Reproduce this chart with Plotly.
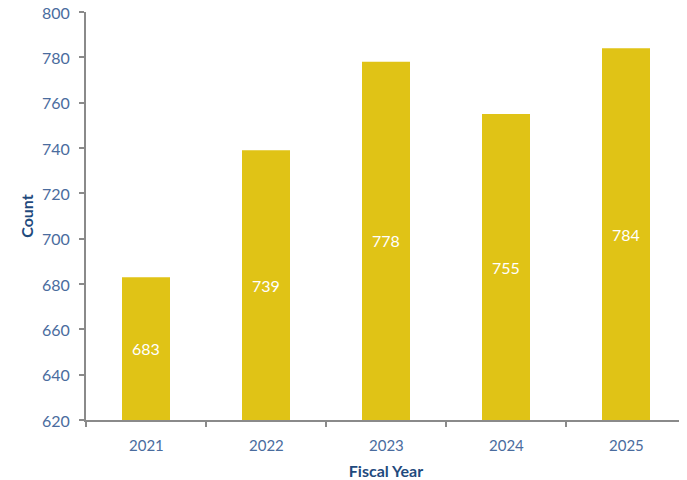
import plotly.graph_objects as go

years = ["2021", "2022", "2023", "2024", "2025"]
counts = [683, 739, 778, 755, 784]
y_ticks = [620, 640, 660, 680, 700, 720, 740, 760, 780, 800]
y_min, y_max = 620, 800

bar_color = "#E0C316"
tick_color = "#4A6C9E"
title_color = "#1F4A7D"
line_color = "#8A8A8A"
font_family = "Lato, Open Sans, sans-serif"

fig = go.Figure(
    go.Bar(
        x=years,
        y=counts,
        marker=dict(color=bar_color, line=dict(width=0)),
        width=0.4,
        hoverinfo="x+y",
    )
)

annotations = []
for i, (yr, c) in enumerate(zip(years, counts)):
    # value labels centred in the visible part of each bar
    annotations.append(dict(
        x=i, xref="x",
        y=(y_min + c) / 2, yref="y",
        text=str(c),
        showarrow=False,
        font=dict(color="white", size=16, family=font_family),
        xanchor="center", yanchor="middle",
    ))
    # category labels below the axis
    annotations.append(dict(
        x=i, xref="x",
        y=0, yref="paper",
        text=yr,
        showarrow=False,
        font=dict(color=tick_color, size=15, family=font_family),
        xanchor="center", yanchor="middle",
        yshift=-25,
    ))
# value-axis labels
for t in y_ticks:
    annotations.append(dict(
        x=0, xref="paper",
        y=t, yref="y",
        text=str(t),
        showarrow=False,
        font=dict(color=tick_color, size=16, family=font_family),
        xanchor="right", yanchor="middle",
        xshift=-14,
    ))

fig.update_layout(
    width=679,
    height=472,
    margin=dict(l=78, r=1, t=4, b=60),
    paper_bgcolor="white",
    plot_bgcolor="white",
    showlegend=False,
    font=dict(family=font_family, color=tick_color, size=15),
    annotations=annotations,
)

fig.update_xaxes(
    type="category",
    categoryorder="array",
    categoryarray=years,
    range=[-0.5, len(years) - 0.5],
    showline=True,
    linecolor=line_color,
    linewidth=1.5,
    ticks="outside",
    tickson="boundaries",
    ticklen=5,
    tickcolor=line_color,
    tickwidth=1.5,
    showticklabels=False,
    showgrid=False,
    title=dict(text="<b>Fiscal Year</b>", font=dict(size=16, color=title_color), standoff=45),
    automargin=False,
)

fig.update_yaxes(
    range=[y_min, y_max],
    tickvals=y_ticks,
    showline=True,
    linecolor=line_color,
    linewidth=1.5,
    ticks="outside",
    ticklen=5,
    tickcolor=line_color,
    tickwidth=1.5,
    showticklabels=False,
    showgrid=False,
    zeroline=False,
    title=dict(text="<b>Count</b>", font=dict(size=16, color=title_color), standoff=42),
    automargin=False,
)

fig.write_html("out.html")
